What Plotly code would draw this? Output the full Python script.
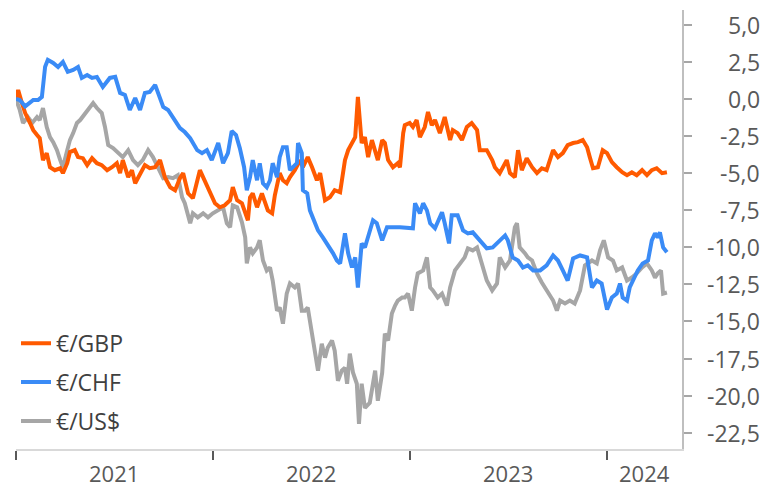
import pandas as pd
import plotly.graph_objects as go

# Cumulative change of the euro against three currencies, in %
gbp = [
    ("2021-01-01", 0.0), ("2021-01-05", 0.61), ("2021-01-12", -0.27), ("2021-01-18", -0.95),
    ("2021-01-27", -1.62), ("2021-02-02", -2.10), ("2021-02-09", -2.43), ("2021-02-14", -2.64),
    ("2021-02-20", -4.12), ("2021-02-27", -3.65), ("2021-03-05", -4.60), ("2021-03-14", -4.80),
    ("2021-03-24", -4.67), ("2021-03-29", -5.00), ("2021-04-06", -4.33), ("2021-04-11", -3.58),
    ("2021-04-20", -3.45), ("2021-04-26", -3.92), ("2021-05-05", -3.99), ("2021-05-13", -4.46),
    ("2021-05-22", -3.99), ("2021-05-31", -4.33), ("2021-06-09", -4.46), ("2021-06-19", -4.80),
    ("2021-06-28", -4.60), ("2021-07-07", -4.33), ("2021-07-13", -5.00), ("2021-07-18", -4.12),
    ("2021-07-28", -5.27), ("2021-08-04", -4.80), ("2021-08-10", -5.68), ("2021-08-19", -5.00),
    ("2021-08-28", -4.46), ("2021-09-06", -4.67), ("2021-09-16", -4.60), ("2021-09-25", -4.12),
    ("2021-10-04", -5.27), ("2021-10-14", -5.95), ("2021-10-23", -6.15), ("2021-11-01", -5.34),
    ("2021-11-07", -5.00), ("2021-11-16", -6.36), ("2021-11-25", -6.69), ("2021-12-08", -4.80),
    ("2021-12-17", -5.48), ("2021-12-27", -6.36), ("2022-01-05", -7.03), ("2022-01-14", -7.30),
    ("2022-01-23", -7.17), ("2022-02-02", -6.83), ("2022-02-07", -5.95), ("2022-02-15", -6.83),
    ("2022-02-24", -7.03), ("2022-03-07", -8.18), ("2022-03-11", -6.63), ("2022-03-16", -6.36),
    ("2022-03-24", -7.30), ("2022-04-02", -6.36), ("2022-04-08", -7.03), ("2022-04-13", -7.51),
    ("2022-04-21", -7.71), ("2022-04-26", -6.49), ("2022-05-05", -5.00), ("2022-05-11", -5.48),
    ("2022-05-18", -5.68), ("2022-05-24", -5.27), ("2022-06-02", -4.80), ("2022-06-12", -4.12),
    ("2022-06-17", -4.60), ("2022-06-26", -3.92), ("2022-07-04", -4.60), ("2022-07-13", -5.48),
    ("2022-07-19", -5.00), ("2022-07-28", -6.83), ("2022-08-06", -6.63), ("2022-08-15", -6.15),
    ("2022-08-25", -6.29), ("2022-09-03", -4.12), ("2022-09-09", -3.45), ("2022-09-16", -2.97),
    ("2022-09-22", -2.57), ("2022-09-27", 0.14), ("2022-10-04", -2.97), ("2022-10-10", -2.57),
    ("2022-10-16", -3.92), ("2022-10-23", -2.77), ("2022-10-29", -3.65), ("2022-11-03", -4.12),
    ("2022-11-11", -2.77), ("2022-11-16", -2.97), ("2022-11-22", -4.12), ("2022-12-01", -4.60),
    ("2022-12-10", -4.33), ("2022-12-14", -4.60), ("2022-12-20", -2.30), ("2022-12-23", -1.76),
    ("2023-01-01", -1.62), ("2023-01-07", -1.89), ("2023-01-14", -1.42), ("2023-01-20", -2.57),
    ("2023-01-29", -1.89), ("2023-02-04", -0.88), ("2023-02-11", -1.76), ("2023-02-17", -1.42),
    ("2023-02-26", -2.30), ("2023-03-07", -1.22), ("2023-03-17", -2.77), ("2023-03-22", -2.10),
    ("2023-03-31", -2.30), ("2023-04-08", -2.77), ("2023-04-17", -1.89), ("2023-04-26", -1.62),
    ("2023-05-06", -2.10), ("2023-05-11", -3.45), ("2023-05-24", -3.45), ("2023-06-03", -4.12),
    ("2023-06-08", -4.60), ("2023-06-17", -5.00), ("2023-06-30", -4.12), ("2023-07-06", -5.00),
    ("2023-07-15", -5.27), ("2023-07-21", -3.45), ("2023-07-28", -4.80), ("2023-08-06", -3.99),
    ("2023-08-16", -4.60), ("2023-08-25", -5.00), ("2023-09-03", -4.67), ("2023-09-12", -4.80),
    ("2023-09-24", -3.45), ("2023-10-03", -3.92), ("2023-10-12", -3.65), ("2023-10-21", -3.11),
    ("2023-10-31", -2.97), ("2023-11-09", -2.91), ("2023-11-18", -2.77), ("2023-11-26", -3.25),
    ("2023-12-01", -3.92), ("2023-12-07", -4.67), ("2023-12-16", -4.60), ("2023-12-25", -3.45),
    ("2024-01-02", -3.65), ("2024-01-11", -4.26), ("2024-01-20", -4.60), ("2024-01-30", -4.94),
    ("2024-02-08", -5.14), ("2024-02-17", -4.94), ("2024-02-26", -5.14), ("2024-03-07", -4.80),
    ("2024-03-16", -5.14), ("2024-03-25", -4.80), ("2024-04-03", -4.67), ("2024-04-13", -5.00),
    ("2024-04-22", -4.94),
]

chf = [
    ("2021-01-01", 0.0), ("2021-01-08", -0.07), ("2021-01-18", -0.50), ("2021-01-27", -0.27),
    ("2021-02-02", -0.07), ("2021-02-11", -0.07), ("2021-02-18", 0.14), ("2021-02-24", 2.18),
    ("2021-03-01", 2.64), ("2021-03-11", 2.43), ("2021-03-20", 2.16), ("2021-03-29", 2.50),
    ("2021-04-07", 1.83), ("2021-04-17", 1.96), ("2021-04-26", 2.16), ("2021-05-03", 1.42),
    ("2021-05-13", 1.62), ("2021-05-22", 1.42), ("2021-05-31", 1.49), ("2021-06-11", 0.81),
    ("2021-06-24", 1.42), ("2021-07-04", 1.49), ("2021-07-13", 0.41), ("2021-07-22", 0.27),
    ("2021-07-31", -0.74), ("2021-08-10", 0.07), ("2021-08-19", -0.74), ("2021-08-28", 0.41),
    ("2021-09-06", 0.47), ("2021-09-16", 0.95), ("2021-09-21", 0.41), ("2021-10-01", -0.54),
    ("2021-10-10", -0.74), ("2021-10-19", -1.22), ("2021-11-01", -1.96), ("2021-11-10", -2.23),
    ("2021-11-20", -2.64), ("2021-12-03", -3.45), ("2021-12-12", -3.65), ("2021-12-21", -3.45),
    ("2021-12-30", -4.12), ("2022-01-11", -2.97), ("2022-01-20", -4.33), ("2022-01-29", -3.65),
    ("2022-02-05", -2.16), ("2022-02-13", -2.43), ("2022-02-20", -3.31), ("2022-02-28", -4.60),
    ("2022-03-05", -6.15), ("2022-03-11", -5.27), ("2022-03-16", -4.12), ("2022-03-24", -5.48),
    ("2022-03-29", -4.33), ("2022-04-04", -5.68), ("2022-04-11", -5.95), ("2022-04-17", -5.48),
    ("2022-04-22", -4.33), ("2022-04-30", -5.27), ("2022-05-05", -3.92), ("2022-05-11", -3.25),
    ("2022-05-18", -3.25), ("2022-05-24", -4.80), ("2022-05-30", -4.60), ("2022-06-06", -4.33),
    ("2022-06-08", -2.97), ("2022-06-15", -3.65), ("2022-06-17", -6.15), ("2022-06-25", -6.36),
    ("2022-06-30", -7.51), ("2022-07-09", -8.38), ("2022-07-15", -8.86), ("2022-07-24", -9.33),
    ("2022-08-01", -9.74), ("2022-08-06", -10.01), ("2022-08-12", -10.41), ("2022-08-19", -10.89),
    ("2022-08-25", -11.09), ("2022-09-03", -9.06), ("2022-09-09", -10.41), ("2022-09-16", -11.36),
    ("2022-09-22", -10.68), ("2022-09-27", -12.71), ("2022-10-04", -9.74), ("2022-10-10", -10.01),
    ("2022-10-16", -9.33), ("2022-10-25", -8.18), ("2022-11-01", -8.38), ("2022-11-11", -9.53),
    ("2022-11-20", -8.65), ("2022-12-01", -8.65), ("2022-12-14", -8.65), ("2023-01-07", -8.72),
    ("2023-01-11", -7.03), ("2023-01-20", -7.71), ("2023-01-26", -7.03), ("2023-02-02", -7.51),
    ("2023-02-08", -8.38), ("2023-02-17", -8.72), ("2023-03-02", -7.64), ("2023-03-07", -8.38),
    ("2023-03-15", -9.74), ("2023-03-20", -7.84), ("2023-03-31", -7.84), ("2023-04-10", -8.86),
    ("2023-04-19", -9.06), ("2023-04-28", -8.99), ("2023-05-11", -9.53), ("2023-05-24", -10.07),
    ("2023-06-04", -10.01), ("2023-06-17", -9.53), ("2023-06-27", -9.20), ("2023-07-02", -9.53),
    ("2023-07-11", -10.68), ("2023-07-21", -10.89), ("2023-07-30", -11.36), ("2023-08-08", -11.22),
    ("2023-08-18", -11.56), ("2023-08-31", -11.56), ("2023-09-12", -11.22), ("2023-09-24", -10.55),
    ("2023-10-03", -10.89), ("2023-10-12", -11.56), ("2023-10-21", -12.24), ("2023-10-31", -10.75),
    ("2023-11-13", -10.55), ("2023-11-26", -10.68), ("2023-12-05", -12.71), ("2023-12-14", -12.24),
    ("2023-12-23", -12.44), ("2024-01-02", -14.20), ("2024-01-11", -13.39), ("2024-01-20", -13.12),
    ("2024-01-26", -12.44), ("2024-01-31", -13.39), ("2024-02-08", -13.59), ("2024-02-13", -12.71),
    ("2024-02-19", -12.24), ("2024-02-28", -11.56), ("2024-03-08", -11.09), ("2024-03-18", -10.89),
    ("2024-03-25", -9.53), ("2024-03-31", -9.06), ("2024-04-05", -9.33), ("2024-04-09", -8.99),
    ("2024-04-15", -10.01), ("2024-04-22", -10.34),
]

usd = [
    ("2021-01-01", 0.0), ("2021-01-08", -0.74), ("2021-01-14", -1.62), ("2021-01-23", -1.22),
    ("2021-01-31", -1.62), ("2021-02-09", -1.22), ("2021-02-14", -1.42), ("2021-02-20", -0.61),
    ("2021-02-27", -1.89), ("2021-03-05", -2.57), ("2021-03-11", -2.91), ("2021-03-18", -3.45),
    ("2021-03-24", -4.12), ("2021-03-29", -4.60), ("2021-04-06", -3.45), ("2021-04-11", -2.77),
    ("2021-04-17", -2.30), ("2021-04-24", -1.62), ("2021-04-30", -1.42), ("2021-05-09", -0.95),
    ("2021-05-18", -0.54), ("2021-05-24", -0.27), ("2021-05-31", -0.61), ("2021-06-09", -0.95),
    ("2021-06-15", -1.89), ("2021-06-21", -3.11), ("2021-06-30", -3.31), ("2021-07-09", -3.58),
    ("2021-07-18", -3.92), ("2021-07-28", -3.45), ("2021-08-06", -4.12), ("2021-08-15", -4.46),
    ("2021-08-24", -4.12), ("2021-09-03", -3.45), ("2021-09-12", -3.92), ("2021-09-21", -4.60),
    ("2021-10-01", -5.34), ("2021-10-10", -5.27), ("2021-10-19", -5.34), ("2021-10-28", -5.14),
    ("2021-11-05", -6.63), ("2021-11-10", -7.03), ("2021-11-20", -8.38), ("2021-11-25", -7.71),
    ("2021-12-04", -7.98), ("2021-12-14", -7.71), ("2021-12-23", -7.98), ("2022-01-01", -7.71),
    ("2022-01-11", -7.51), ("2022-01-20", -7.30), ("2022-01-27", -8.38), ("2022-02-02", -8.65),
    ("2022-02-07", -7.17), ("2022-02-15", -7.30), ("2022-02-24", -8.32), ("2022-03-02", -9.33),
    ("2022-03-05", -11.09), ("2022-03-11", -10.01), ("2022-03-16", -10.41), ("2022-03-24", -10.01),
    ("2022-03-29", -9.53), ("2022-04-04", -10.89), ("2022-04-11", -11.56), ("2022-04-17", -11.36),
    ("2022-04-22", -12.24), ("2022-04-30", -14.27), ("2022-05-05", -14.06), ("2022-05-11", -15.15),
    ("2022-05-18", -13.12), ("2022-05-24", -12.44), ("2022-06-02", -12.71), ("2022-06-08", -12.44),
    ("2022-06-15", -14.27), ("2022-06-21", -14.27), ("2022-06-26", -14.06), ("2022-07-04", -15.82),
    ("2022-07-09", -16.77), ("2022-07-15", -18.32), ("2022-07-22", -16.50), ("2022-07-28", -17.44),
    ("2022-08-02", -16.77), ("2022-08-10", -16.29), ("2022-08-15", -16.97), ("2022-08-21", -19.00),
    ("2022-08-28", -18.32), ("2022-09-03", -18.12), ("2022-09-07", -19.20), ("2022-09-12", -17.17),
    ("2022-09-18", -18.46), ("2022-09-25", -19.20), ("2022-09-29", -21.91), ("2022-10-04", -19.20),
    ("2022-10-10", -20.83), ("2022-10-19", -20.49), ("2022-10-29", -18.32), ("2022-11-03", -20.35),
    ("2022-11-11", -18.46), ("2022-11-16", -15.82), ("2022-11-22", -16.29), ("2022-11-29", -14.47),
    ("2022-12-05", -13.93), ("2022-12-10", -13.59), ("2022-12-18", -13.39), ("2022-12-23", -13.39),
    ("2022-12-29", -13.12), ("2023-01-05", -14.27), ("2023-01-11", -12.71), ("2023-01-16", -11.76),
    ("2023-01-26", -11.56), ("2023-02-02", -10.68), ("2023-02-08", -12.71), ("2023-02-13", -12.91),
    ("2023-02-22", -13.39), ("2023-03-02", -13.12), ("2023-03-11", -13.93), ("2023-03-17", -12.71),
    ("2023-03-26", -11.56), ("2023-04-04", -11.09), ("2023-04-13", -10.68), ("2023-04-19", -10.07),
    ("2023-04-28", -10.21), ("2023-05-06", -10.01), ("2023-05-15", -11.09), ("2023-05-24", -12.24),
    ("2023-06-03", -12.91), ("2023-06-12", -12.44), ("2023-06-17", -10.68), ("2023-06-27", -11.36),
    ("2023-07-06", -10.89), ("2023-07-15", -8.65), ("2023-07-19", -8.38), ("2023-07-24", -10.01),
    ("2023-08-03", -10.41), ("2023-08-08", -10.68), ("2023-08-16", -10.89), ("2023-08-25", -11.76),
    ("2023-09-03", -12.37), ("2023-09-09", -12.71), ("2023-09-14", -13.05), ("2023-09-24", -13.59),
    ("2023-10-01", -14.27), ("2023-10-07", -13.59), ("2023-10-16", -13.79), ("2023-10-25", -13.59),
    ("2023-11-03", -13.79), ("2023-11-13", -12.91), ("2023-11-22", -11.22), ("2023-12-05", -10.89),
    ("2023-12-14", -11.09), ("2023-12-20", -10.21), ("2023-12-27", -9.53), ("2024-01-04", -10.68),
    ("2024-01-13", -10.89), ("2024-01-20", -11.56), ("2024-01-30", -11.36), ("2024-02-08", -12.24),
    ("2024-02-17", -12.04), ("2024-02-26", -11.76), ("2024-03-07", -11.36), ("2024-03-16", -11.09),
    ("2024-03-25", -11.56), ("2024-03-31", -12.04), ("2024-04-05", -11.76), ("2024-04-11", -11.56),
    ("2024-04-15", -13.12), ("2024-04-22", -13.05),
]

series_names = ["€/GBP", "€/CHF", "€/US$"]
series_colors = ["#FF5A00", "#3A8BF6", "#A6A6A6"]

ytick_values = [5.0, 2.5, 0.0, -2.5, -5.0, -7.5, -10.0, -12.5, -15.0, -17.5, -20.0, -22.5]
ytick_labels = ["5,0", "2,5", "0,0", "-2,5", "-5,0", "-7,5", "-10,0", "-12,5",
                "-15,0", "-17,5", "-20,0", "-22,5"]
year_labels = ["2021", "2022", "2023", "2024"]

x_start, x_end = pd.Timestamp("2021-01-01"), pd.Timestamp("2024-05-20")
y_low, y_high = -23.6, 6.0

TEXT = "#595959"
FONT = "Open Sans"

fig = go.Figure()

# grey first so the other two sit on top; legend order set by legendrank
draw_order = [2, 0, 1]
for i in draw_order:
    data = [gbp, chf, usd][i]
    fig.add_trace(go.Scatter(
        x=pd.to_datetime([d for d, _ in data]),
        y=[v for _, v in data],
        mode="lines",
        name=series_names[i],
        legendrank=i + 1,
        legendgroup=series_names[i],
        line=dict(color=series_colors[i], width=4),
        hoverinfo="skip",
    ))

# year labels centred in each year's slice of the axis
annotations = []
for lab in year_labels:
    yr = int(lab)
    a = max(pd.Timestamp(f"{yr}-01-01"), x_start)
    b = min(pd.Timestamp(f"{yr + 1}-01-01"), x_end)
    annotations.append(dict(
        x=a + (b - a) / 2, y=0, xref="x", yref="paper",
        text=lab, showarrow=False, yanchor="top", yshift=-7,
        font=dict(family=FONT, size=22, color=TEXT),
    ))

# right-aligned value labels beside the right-hand axis
for v, lab in zip(ytick_values, ytick_labels):
    annotations.append(dict(
        x=1.12, y=v, xref="paper", yref="y", text=lab, showarrow=False,
        xanchor="right", yanchor="middle",
        font=dict(family=FONT, size=23, color=TEXT),
    ))

fig.update_layout(
    width=767, height=488,
    margin=dict(l=16, r=85, t=10, b=39),
    paper_bgcolor="white", plot_bgcolor="white",
    font=dict(family=FONT, color=TEXT),
    showlegend=True,
    legend=dict(
        x=0.0, y=0.29, xanchor="left", yanchor="top",
        bgcolor="rgba(0,0,0,0)", traceorder="grouped", tracegroupgap=6,
        font=dict(family=FONT, size=23, color="#404040"),
        itemwidth=30,
    ),
    annotations=annotations,
    xaxis=dict(
        type="date", range=[x_start, x_end],
        showgrid=False, zeroline=False,
        showline=True, linecolor="#D9D9D9", linewidth=1.5,
        ticks="outside", ticklen=9, tickwidth=1.5, tickcolor="#595959",
        tickvals=[pd.Timestamp(f"{y}-01-01") for y in year_labels],
        showticklabels=False,
    ),
    yaxis=dict(
        range=[y_low, y_high], side="right",
        showgrid=False, zeroline=False,
        showline=True, linecolor="#BFBFBF", linewidth=1.5,
        ticks="outside", ticklen=8, tickwidth=1.5, tickcolor="#A6A6A6",
        tickvals=ytick_values, showticklabels=False,
    ),
)

fig.write_html("out.html")
